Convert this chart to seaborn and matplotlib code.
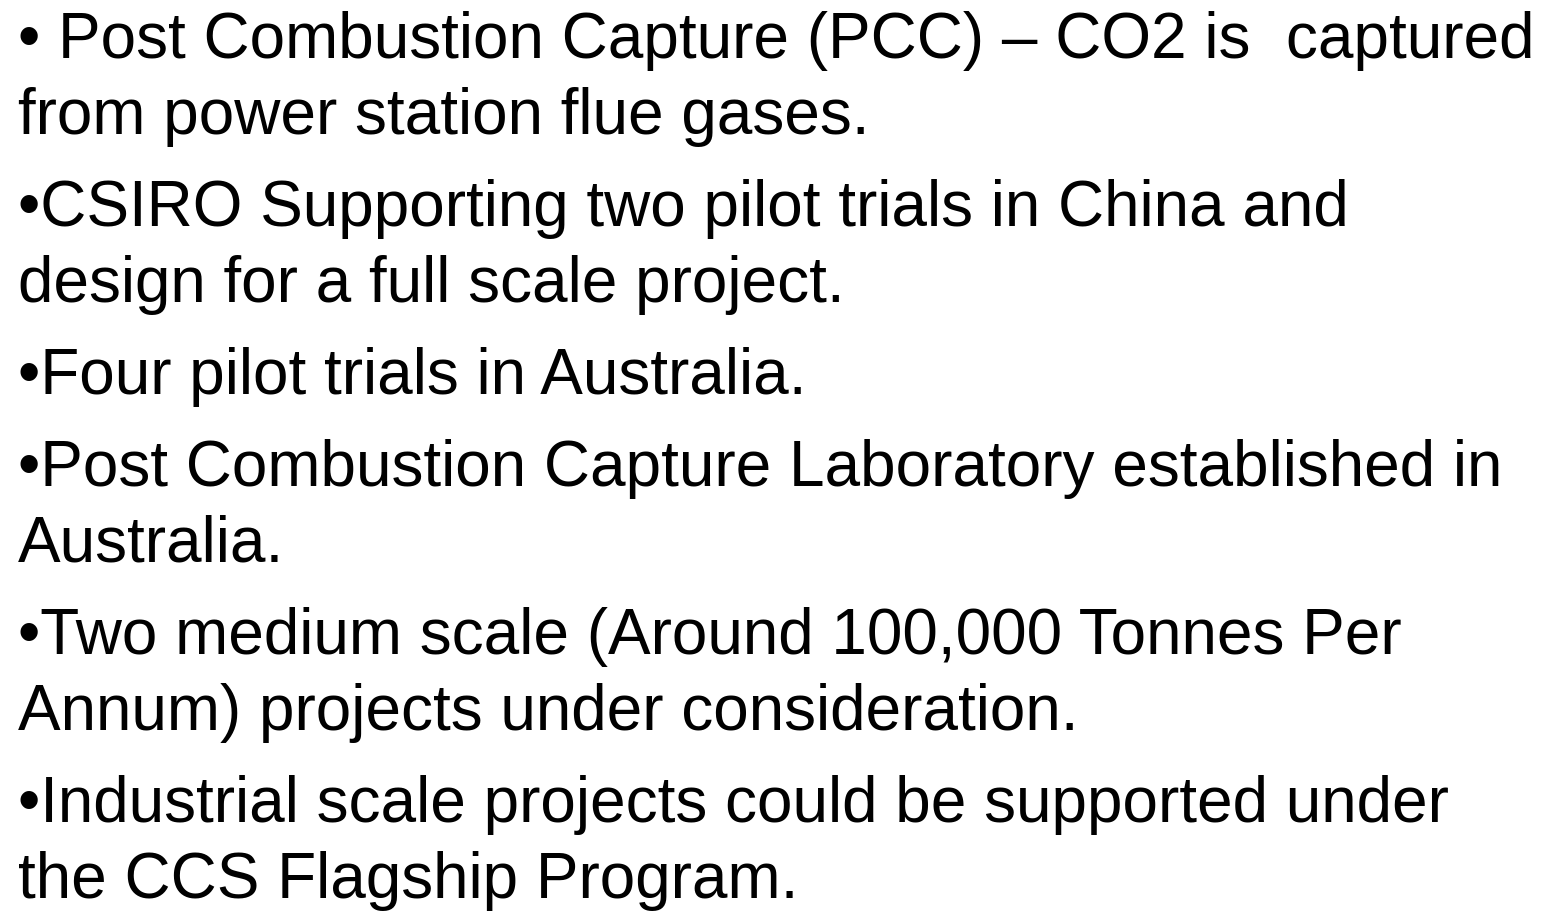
import seaborn as sns
import matplotlib.pyplot as plt

# bullet points, each a list of wrapped lines
bullet_1 = ["\u2022 Post Combustion Capture (PCC) \u2013 CO2 is  captured",
            "from power station flue gases."]
bullet_2 = ["\u2022CSIRO Supporting two pilot trials in China and",
            "design for a full scale project."]
bullet_3 = ["\u2022Four pilot trials in Australia."]
bullet_4 = ["\u2022Post Combustion Capture Laboratory established in",
            "Australia."]
bullet_5 = ["\u2022Two medium scale (Around 100,000 Tonnes Per",
            "Annum) projects under consideration."]
bullet_6 = ["\u2022Industrial scale projects could be supported under",
            "the CCS Flagship Program."]
bullets = [bullet_1, bullet_2, bullet_3, bullet_4, bullet_5, bullet_6]

sns.set_theme(style="white")
plt.rcParams["font.family"] = ["Liberation Sans", "DejaVu Sans"]

fig = plt.figure(figsize=(15.47, 9.11), dpi=100)
ax = fig.add_axes([0, 0, 1, 1])
ax.set_xlim(0, 1547)
ax.set_ylim(911, 0)
ax.axis("off")

y = 58
for lines in bullets:
    for line in lines:
        ax.text(18, y, line, fontsize=46, color="black", va="baseline", ha="left")
        y += 76
    y += 16

plt.savefig("out.png", dpi=100, facecolor="white")
